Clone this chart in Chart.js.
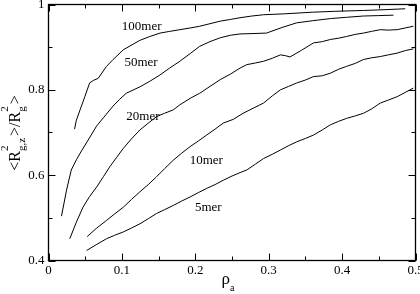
<!DOCTYPE html>
<html><head><meta charset="utf-8">
<script src="https://cdn.jsdelivr.net/npm/chart.js@4"></script>
<style>html,body{margin:0;padding:0;background:#fff}canvas{display:block}</style>
</head><body>
<canvas id="c" width="420" height="294"></canvas>
<script>
// ---- data ----
const x100 = [0.0355,0.038,0.043,0.0495,0.056,0.061,0.0677,0.079,0.088,0.102,0.1245,0.138,0.152,0.165,0.179,0.193,0.206,0.220,0.234,0.248,0.261,0.277,0.293,0.320,0.360,0.390,0.429,0.460,0.486];
const y100 = [0.708,0.729,0.753,0.784,0.816,0.822,0.827,0.855,0.871,0.894,0.916,0.925,0.933,0.937,0.941,0.945,0.949,0.955,0.961,0.965,0.969,0.973,0.976,0.978,0.982,0.984,0.986,0.988,0.990];

const x50 = [0.0177,0.0246,0.031,0.038,0.045,0.055,0.0655,0.075,0.088,0.097,0.106,0.1245,0.138,0.152,0.165,0.179,0.193,0.206,0.220,0.234,0.248,0.261,0.280,0.297,0.318,0.338,0.360,0.384,0.406,0.429,0.450,0.470];
const y50 = [0.504,0.565,0.612,0.636,0.657,0.685,0.715,0.735,0.762,0.778,0.792,0.807,0.820,0.835,0.851,0.867,0.885,0.902,0.913,0.922,0.928,0.931,0.932,0.933,0.946,0.957,0.962,0.967,0.970,0.973,0.974,0.975];

const x20 = [0.029,0.038,0.047,0.056,0.0655,0.075,0.0836,0.093,0.102,0.113,0.1245,0.136,0.147,0.158,0.170,0.179,0.193,0.206,0.220,0.234,0.248,0.261,0.270,0.282,0.293,0.305,0.316,0.323,0.329,0.345,0.361,0.373,0.384,0.395,0.406,0.418,0.429,0.440,0.452,0.463,0.475,0.486,0.497];
const y20 = [0.451,0.490,0.525,0.550,0.572,0.597,0.620,0.642,0.663,0.685,0.706,0.722,0.737,0.745,0.753,0.765,0.780,0.792,0.808,0.824,0.837,0.851,0.859,0.863,0.867,0.874,0.882,0.880,0.877,0.893,0.910,0.913,0.918,0.921,0.925,0.930,0.933,0.937,0.941,0.940,0.941,0.945,0.949];

const x10 = [0.0527,0.065,0.079,0.090,0.102,0.113,0.1245,0.136,0.147,0.158,0.170,0.181,0.193,0.204,0.2155,0.227,0.238,0.252,0.265,0.279,0.293,0.305,0.316,0.327,0.338,0.350,0.361,0.373,0.384,0.395,0.406,0.418,0.429,0.440,0.452,0.463,0.475,0.486,0.497];
const y10 = [0.456,0.475,0.494,0.509,0.525,0.543,0.561,0.578,0.596,0.615,0.635,0.651,0.667,0.680,0.694,0.708,0.722,0.731,0.745,0.757,0.769,0.786,0.800,0.808,0.816,0.823,0.831,0.833,0.839,0.848,0.855,0.862,0.871,0.875,0.878,0.882,0.886,0.892,0.896];

const x5 = [0.052,0.065,0.079,0.090,0.102,0.113,0.1245,0.136,0.147,0.158,0.170,0.181,0.193,0.204,0.2155,0.227,0.238,0.250,0.261,0.270,0.282,0.293,0.305,0.316,0.327,0.338,0.350,0.361,0.373,0.384,0.395,0.406,0.418,0.429,0.440,0.452,0.463,0.475,0.486,0.497];
const y5 = [0.4235,0.437,0.451,0.459,0.467,0.476,0.486,0.498,0.510,0.519,0.529,0.539,0.549,0.559,0.569,0.578,0.588,0.598,0.606,0.612,0.626,0.639,0.649,0.659,0.669,0.678,0.686,0.694,0.706,0.718,0.726,0.733,0.739,0.745,0.755,0.769,0.776,0.784,0.794,0.804];

const seriesNames = ['100mer','50mer','20mer','10mer','5mer'];
const seriesX = [x100, x50, x20, x10, x5];
const seriesY = [y100, y50, y20, y10, y5];

const xTickLabels = ['0','0.1','0.2','0.3','0.4','0.5'];
const yTickLabels = ['0.4','0.6','0.8','1'];
</script>
<script>
// ---- drawing ----
const labelAnchorX = [0.127, 0.126, 0.1287, 0.2149, 0.2177];
const labelAnchorY = [0.948, 0.8635, 0.7365, 0.635, 0.525];
const SERIF = '"Liberation Serif", "Times New Roman", Times, serif';

const datasets = seriesNames.map((name, i) => ({
  label: name,
  data: seriesX[i].map((x, j) => ({x: x, y: seriesY[i][j]})),
  borderColor: '#000',
  borderWidth: 1,
  pointRadius: 0,
  tension: 0,
  fill: false
}));

function drawRich(ctx, parts) {
  let x = 0;
  for (const p of parts) {
    if (p.stack) {
      let w = 0;
      for (const s of p.stack) {
        ctx.font = s.size + 'px ' + SERIF;
        ctx.fillText(s.t, x, s.dy);
        w = Math.max(w, ctx.measureText(s.t).width);
      }
      x += w + (p.gap || 0);
    } else {
      ctx.font = p.size + 'px ' + SERIF;
      ctx.fillText(p.t, x, p.dy || 0);
      x += ctx.measureText(p.t).width;
    }
  }
  return x;
}
function richWidth(ctx, parts) {
  let x = 0;
  for (const p of parts) {
    if (p.stack) {
      let w = 0;
      for (const s of p.stack) { ctx.font = s.size + 'px ' + SERIF; w = Math.max(w, ctx.measureText(s.t).width); }
      x += w + (p.gap || 0);
    } else { ctx.font = p.size + 'px ' + SERIF; x += ctx.measureText(p.t).width; }
  }
  return x;
}

const decor = {
  id: 'decor',
  afterDraw(chart) {
    const ctx = chart.ctx;
    const a = chart.chartArea;
    const xs = chart.scales.x, ys = chart.scales.y;
    ctx.save();
    ctx.strokeStyle = '#000';
    ctx.fillStyle = '#000';
    ctx.lineWidth = 1.3;
    ctx.strokeRect(a.left, a.top, a.right - a.left, a.bottom - a.top);
    ctx.lineWidth = 1;
    ctx.beginPath();
    for (let k = 0; k <= 10; k++) {
      const v = k * 0.05;
      const px = Math.round(xs.getPixelForValue(v)) + 0.5;
      const len = (k % 2 === 0) ? 7 : 4;
      ctx.moveTo(px, a.bottom); ctx.lineTo(px, a.bottom - len);
      ctx.moveTo(px, a.top); ctx.lineTo(px, a.top + len);
    }
    for (let k = 0; k <= 6; k++) {
      const v = 0.4 + k * 0.1;
      const py = Math.round(ys.getPixelForValue(v)) + 0.5;
      const len = (k % 2 === 0) ? 7 : 4;
      ctx.moveTo(a.left, py); ctx.lineTo(a.left + len, py);
      ctx.moveTo(a.right, py); ctx.lineTo(a.right - len, py);
    }
    ctx.stroke();
    ctx.font = '13px ' + SERIF;
    ctx.textAlign = 'center';
    ctx.textBaseline = 'middle';
    seriesNames.forEach((n, i) => {
      ctx.fillText(n, xs.getPixelForValue(labelAnchorX[i]), ys.getPixelForValue(labelAnchorY[i]));
    });
    ctx.textAlign = 'left';
    ctx.textBaseline = 'alphabetic';
    const xt = [{t:'\u03C1', size:17, dy:0}, {t:'a', size:10, dy:7}];
    const xw = richWidth(ctx, xt);
    ctx.save();
    ctx.translate(228 - xw / 2, 284);
    drawRich(ctx, xt);
    ctx.restore();
    const yt = [
      {t:'<R', size:16, dy:0},
      {stack:[{t:'g,z', size:11, dy:5}, {t:'2', size:11, dy:-12}], gap:2},
      {t:'>/R', size:16, dy:0},
      {stack:[{t:'g', size:11, dy:5}, {t:'2', size:11, dy:-12}], gap:2},
      {t:'>', size:16, dy:0}
    ];
    const yw = richWidth(ctx, yt);
    ctx.save();
    ctx.translate(20, 133);
    ctx.rotate(-Math.PI / 2);
    ctx.translate(-yw / 2, 0);
    drawRich(ctx, yt);
    ctx.restore();
    ctx.restore();
  }
};

function build() {
  new Chart(document.getElementById('c'), {
    type: 'line',
    data: { datasets },
    plugins: [decor],
    options: {
      responsive: false,
      devicePixelRatio: 1,
      animation: false,
      layout: { padding: { top: 4.5, right: 4.5, left: 0, bottom: 0 } },
      plugins: { legend: { display: false }, tooltip: { enabled: false } },
      scales: {
        x: {
          type: 'linear', min: 0, max: 0.5,
          grid: { display: false, drawTicks: false },
          border: { display: false },
          ticks: {
            stepSize: 0.1, padding: 2, color: '#000',
            font: { family: SERIF, size: 13 },
            callback: (v) => xTickLabels[Math.round(v * 10)]
          },
          afterFit: (s) => { s.height = 33.5; s.paddingLeft = 0; s.paddingRight = 0; }
        },
        y: {
          type: 'linear', min: 0.4, max: 1,
          grid: { display: false, drawTicks: false },
          border: { display: false },
          ticks: {
            stepSize: 0.2, padding: 4, color: '#000',
            font: { family: SERIF, size: 13 },
            callback: (v) => yTickLabels[Math.round((v - 0.4) * 5)]
          },
          afterFit: (s) => { s.width = 48.5; s.paddingTop = 0; s.paddingBottom = 0; }
        }
      }
    }
  });
}
if (document.fonts && document.fonts.load) {
  Promise.all([
    document.fonts.load('13px "Liberation Serif"'),
    document.fonts.load('16px "Liberation Serif"', '\u03C1')
  ]).then(build, build);
} else { build(); }
</script>
</body></html>
